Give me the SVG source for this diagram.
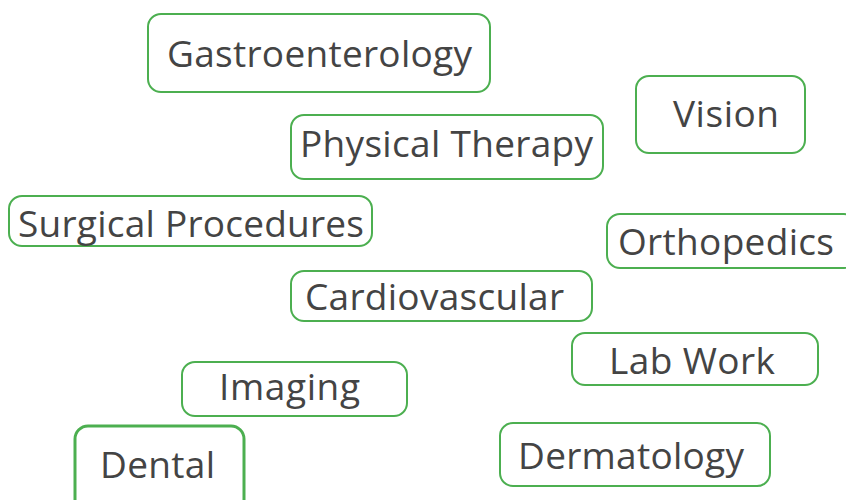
<svg xmlns="http://www.w3.org/2000/svg" width="846" height="500" viewBox="0 0 846 500">
<style>
.box{fill:#fff;stroke:#4caf50;stroke-width:2}
.lbl{font-family:"Open Sans",sans-serif;font-size:37px;fill:#444}
</style>
<rect width="846" height="500" fill="#fff"/>
<g id="connectors"></g>
<g id="gastro"><rect class="box" x="148" y="14" width="342" height="78" rx="13"/><text class="lbl" x="167" y="67" textLength="305">Gastroenterology</text></g>
<g id="vision"><rect class="box" x="636" y="76" width="169" height="77" rx="13"/><text class="lbl" x="673" y="127" textLength="106">Vision</text></g>
<g id="physical"><rect class="box" x="291" y="115" width="312" height="64" rx="13"/><text class="lbl" x="300" y="157" textLength="293">Physical Therapy</text></g>
<g id="surgical"><rect class="box" x="9" y="196" width="363" height="50" rx="13"/><text class="lbl" x="18" y="237" textLength="346">Surgical Procedures</text></g>
<g id="ortho"><rect class="box" x="607" y="214" width="250" height="54" rx="13"/><text class="lbl" x="618" y="255" textLength="216">Orthopedics</text></g>
<g id="cardio"><rect class="box" x="291" y="271" width="301" height="50" rx="13"/><text class="lbl" x="305" y="310" textLength="259">Cardiovascular</text></g>
<g id="lab"><rect class="box" x="572" y="333" width="246" height="52" rx="13"/><text class="lbl" x="609" y="374" textLength="166">Lab Work</text></g>
<g id="imaging"><rect class="box" x="182" y="362" width="225" height="54" rx="13"/><text class="lbl" x="219" y="400" textLength="141">Imaging</text></g>
<g id="dental"><rect class="box" x="75" y="426" width="169" height="90" rx="13" style="stroke-width:3"/><text class="lbl" x="100" y="478" textLength="115">Dental</text></g>
<g id="derm"><rect class="box" x="500" y="423" width="270" height="63" rx="13"/><text class="lbl" x="518" y="469" textLength="226">Dermatology</text></g>
</svg>
